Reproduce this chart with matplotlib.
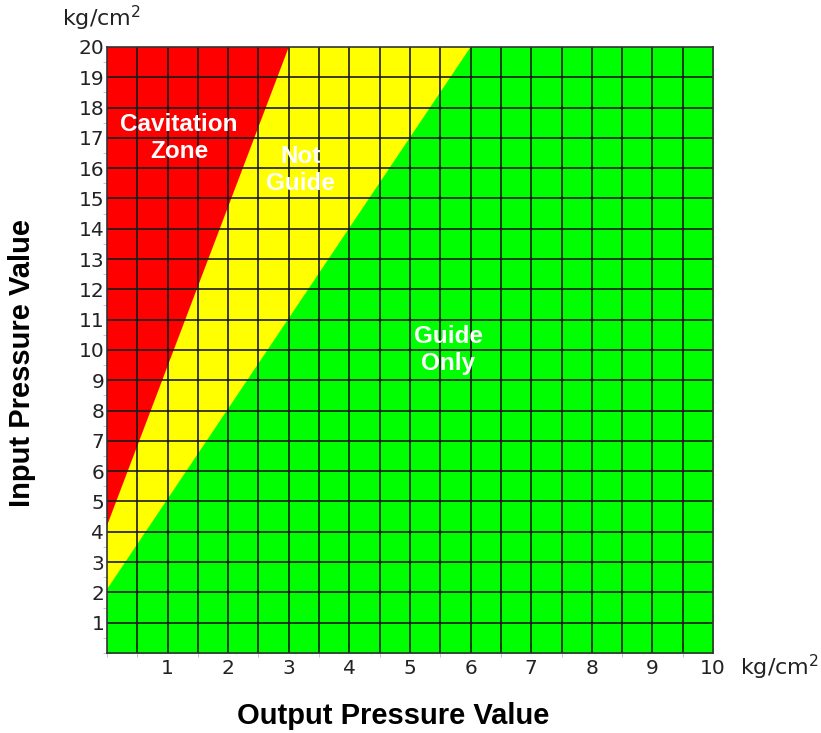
import numpy as np
import matplotlib.pyplot as plt
from matplotlib.ticker import MultipleLocator

# Zone boundaries (output pressure x, input pressure y)
red_x = [0.0, 3.0]
red_y = [4.2, 20.0]
green_x = [0.0, 6.0]
green_y = [2.1, 20.0]

x_ticks = list(range(1, 11))
y_ticks = list(range(1, 21))

zone_labels = ["Cavitation\nZone", "Not\nGuide", "Guide\nOnly"]
zone_pos = [(1.19, 17.0), (3.2, 15.94), (5.63, 10.0)]

fig = plt.figure(figsize=(8.21, 7.33), dpi=100)
ax = fig.add_axes([0.1303, 0.1092, 0.7382, 0.8267])
ax.set_xlim(0, 10)
ax.set_ylim(0, 20)

# green background, yellow band, red wedge
ax.fill_between([0, 10], 0, 20, color="#00ff00", zorder=0)
ax.fill([green_x[0], green_x[1], 0], [green_y[0], green_y[1], 20], color="#ffff00", zorder=1, lw=0)
ax.fill([red_x[0], red_x[1], 0], [red_y[0], red_y[1], 20], color="#ff0000", zorder=2, lw=0)

# grid
for gx in np.arange(0.5, 10, 0.5):
    ax.axvline(gx, color="#1a1a1a", lw=1.4, alpha=0.85, zorder=3)
for gy in range(1, 20):
    ax.axhline(gy, color="#1a1a1a", lw=1.4, alpha=0.85, zorder=3)

for s in ax.spines.values():
    s.set_color("#333333")
    s.set_linewidth(1.2)
    s.set_zorder(4)

for txt, (tx, ty) in zip(zone_labels, zone_pos):
    ax.text(tx, ty, txt, color="white", fontsize=17.5, fontweight="bold",
            family="Liberation Sans", ha="center", va="center", zorder=5,
            linespacing=1.2)

ax.set_xticks(x_ticks)
ax.set_yticks(y_ticks)
ax.xaxis.set_minor_locator(MultipleLocator(0.5))
ax.yaxis.set_minor_locator(MultipleLocator(0.5))
ax.tick_params(which="major", length=0, labelsize=14.5, labelcolor="#222222")
ax.tick_params(axis="y", which="major", pad=2)
ax.tick_params(axis="x", which="major", pad=4)
ax.tick_params(which="minor", length=3, color="#bbbbbb")

fig.text(393 / 821, 1 - 716 / 733, "Output Pressure Value", fontsize=21, fontweight="bold",
         family="Liberation Sans", ha="center", va="center")
fig.text(22 / 821, 1 - 363 / 733, "Input Pressure Value", fontsize=21, fontweight="bold",
         family="Liberation Sans", ha="center", va="center", rotation=90)

fig.text(62 / 821, 1 - 18 / 733, "kg/cm$^2$", fontsize=16, color="#222222", va="center")
fig.text(740 / 821, 1 - 667 / 733, "kg/cm$^2$", fontsize=16, color="#222222", va="center")

plt.savefig("out.png", dpi=100)
plt.close()
